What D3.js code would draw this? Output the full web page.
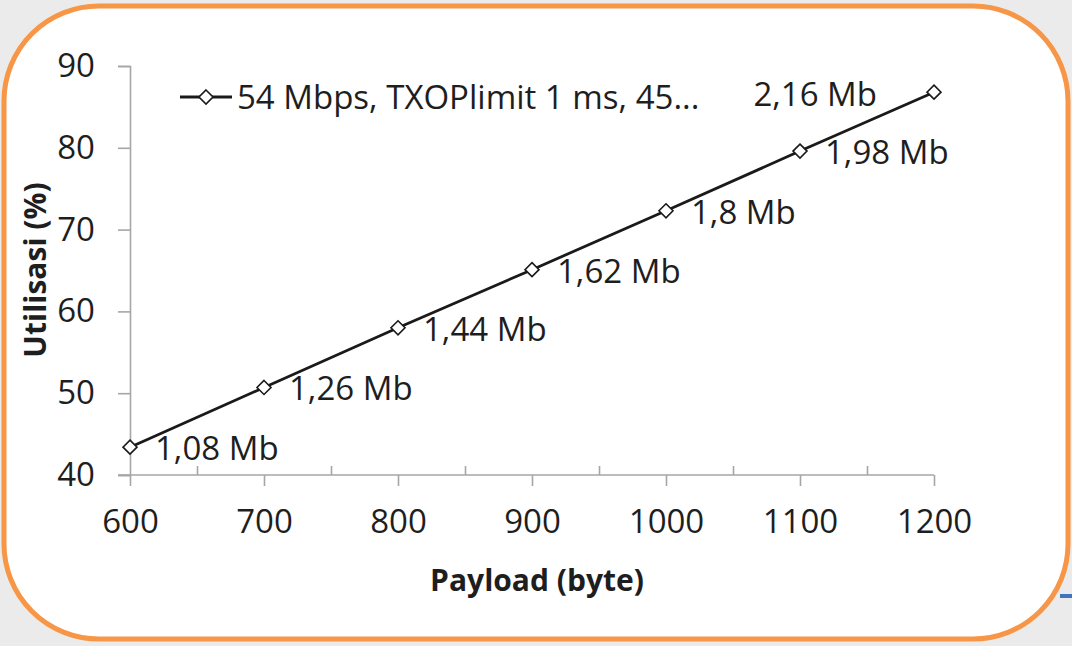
<!DOCTYPE html>
<html><head><meta charset="utf-8">
<script src="https://cdn.jsdelivr.net/npm/d3@7"></script>
<style>html,body{margin:0;padding:0;background:#ebebeb;}svg{display:block;}</style>
</head><body>
<script>
const payload = [600, 700, 800, 900, 1000, 1100, 1200];
const utilisasi = [43.4, 50.7, 58.0, 65.1, 72.3, 79.6, 86.8];
const pointLabels = ["1,08 Mb", "1,26 Mb", "1,44 Mb", "1,62 Mb", "1,8 Mb", "1,98 Mb", "2,16 Mb"];
const xTicks = [600, 700, 800, 900, 1000, 1100, 1200];
const xMinorTicks = [650, 750, 850, 950, 1050, 1150];
const yTicks = [40, 50, 60, 70, 80, 90];
const seriesName = "54 Mbps, TXOPlimit 1 ms, 45...";
const xTitle = "Payload (byte)";
const yTitle = "Utilisasi (%)";

const W = 1072, H = 646;
const svg = d3.select("body").append("svg").attr("width", W).attr("height", H);
const font = "'Open Sans', sans-serif";
const fs = 33;

svg.append("rect").attr("width", W).attr("height", H).attr("fill", "#ebebeb");
svg.append("line").attr("x1", 1060).attr("x2", W).attr("y1", 596).attr("y2", 596).attr("stroke", "#3d75c0").attr("stroke-width", 4);
svg.append("rect").attr("x", 4).attr("y", 6).attr("width", 1064).attr("height", 633)
  .attr("rx", 95).attr("ry", 95).attr("fill", "#fff").attr("stroke", "#f79646").attr("stroke-width", 5);

const x = d3.scaleLinear().domain([600, 1200]).range([130, 934]);
const y = d3.scaleLinear().domain([40, 90]).range([475, 66]);

const axisColor = "#a6a6a6", textColor = "#1e1e1e";

const gy = svg.append("g").attr("transform", "translate(130,0)")
  .call(d3.axisLeft(y).tickValues(yTicks).tickSize(12).tickPadding(23));
gy.select(".domain").attr("stroke", axisColor).attr("stroke-width", 1.6);
gy.selectAll(".tick line").attr("stroke", axisColor).attr("stroke-width", 1.6);
gy.selectAll(".tick text").attr("fill", textColor).attr("font-family", font).attr("font-size", fs);

const gx = svg.append("g").attr("transform", "translate(0,475)")
  .call(d3.axisBottom(x).tickValues(xTicks).tickSize(11).tickPadding(24).tickSizeOuter(0).tickFormat(d3.format("d")));
gx.select(".domain").remove();
svg.append("line").attr("x1", 118).attr("x2", x(1200)).attr("y1", 475).attr("y2", 475)
  .attr("stroke", axisColor).attr("stroke-width", 1.6);
gx.selectAll(".tick line").attr("stroke", axisColor).attr("stroke-width", 1.6);
gx.selectAll(".tick text").attr("fill", textColor).attr("font-family", font).attr("font-size", fs);
svg.append("g").attr("transform", "translate(0,475)")
  .call(d3.axisTop(x).tickValues(xMinorTicks).tickSize(9).tickFormat(""))
  .call(g => g.select(".domain").remove())
  .selectAll(".tick line").attr("stroke", axisColor).attr("stroke-width", 1.6);

svg.append("text").attr("x", 537).attr("y", 591).attr("text-anchor", "middle")
  .attr("font-family", font).attr("font-weight", "bold").attr("font-size", 30).attr("fill", textColor).text(xTitle);
svg.append("text").attr("transform", "translate(46,270) rotate(-90)").attr("text-anchor", "middle")
  .attr("font-family", font).attr("font-weight", "bold").attr("font-size", 30).attr("fill", textColor).text(yTitle);

const data = payload.map((p, i) => ({p, u: utilisasi[i], label: pointLabels[i]}));
svg.append("path").datum(data)
  .attr("d", d3.line().x(d => x(d.p)).y(d => y(d.u)))
  .attr("fill", "none").attr("stroke", "#1a1a1a").attr("stroke-width", 2.8);

const diamond = (cx, cy, r) => `M${cx},${cy - r}L${cx + r},${cy}L${cx},${cy + r}L${cx - r},${cy}Z`;
svg.selectAll(".pt").data(data).enter().append("path")
  .attr("d", d => diamond(x(d.p), y(d.u), 7))
  .attr("fill", "#fff").attr("stroke", "#1a1a1a").attr("stroke-width", 1.6);

svg.selectAll(".lbl").data(data).enter().append("text")
  .attr("x", (d, i) => i === data.length - 1 ? x(d.p) - 57 : x(d.p) + 25)
  .attr("y", (d, i) => i === data.length - 1 ? y(d.u) + 14 : y(d.u) + 13)
  .attr("text-anchor", (d, i) => i === data.length - 1 ? "end" : "start")
  .attr("font-family", font).attr("font-size", fs).attr("fill", textColor)
  .text(d => d.label);

svg.append("line").attr("x1", 180).attr("x2", 232).attr("y1", 97).attr("y2", 97)
  .attr("stroke", "#1a1a1a").attr("stroke-width", 2.8);
svg.append("path").attr("d", diamond(206, 97, 7)).attr("fill", "#fff").attr("stroke", "#1a1a1a").attr("stroke-width", 1.6);
svg.append("text").attr("x", 237).attr("y", 109).attr("font-family", font).attr("font-size", fs)
  .attr("fill", textColor).text(seriesName);
</script>
</body></html>
